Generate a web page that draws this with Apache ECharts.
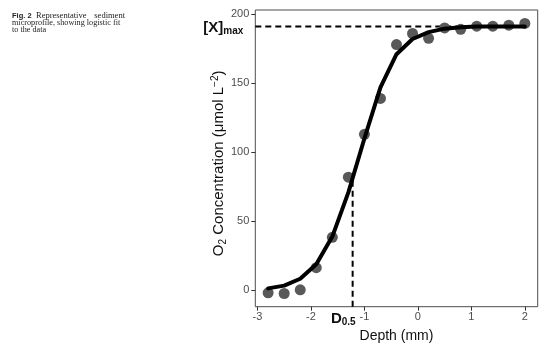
<!DOCTYPE html>
<html><head><meta charset="utf-8">
<script src="https://cdn.jsdelivr.net/npm/echarts@6/dist/echarts.min.js"></script>
<style>html,body{margin:0;padding:0;background:#fff}#c{width:554px;height:357px}</style>
</head><body><div id="c"></div>
<script>
// Observed data (depth in mm, O2 in µmol L^-2)
const depth = [-2.8,-2.5,-2.2,-1.9,-1.6,-1.3,-1.0,-0.7,-0.4,-0.1,0.2,0.5,0.8,1.1,1.4,1.7,2.0];
const o2Obs = [-1.7,-2.2,0.5,16.5,38.5,82,113,139,178,186,182.5,190,189,191.3,191.3,192,193.3];
// Logistic fit
const o2Fit = [1.5,3.5,8.5,19,39,71,110,147,171,182,187,189.5,190.5,191,191,191,191];
const xMax = 191;   // [X]max
const d05 = -1.22;  // D0.5
const d05Level = 81.4;
const xTicks = [-3,-2,-1,0,1,2];
const yTicks = [0,50,100,150,200];
const xRange = [-3.04, 2.24];
const yRange = [-11.75, 203];

const chart = echarts.init(document.getElementById('c'), null, {renderer:'canvas'});
const F = 'Liberation Sans, Arial, sans-serif';
const SERIF = 'Liberation Serif, Times New Roman, serif';
chart.setOption({
  animation:false,
  grid:{left:255.3,right:16.3,top:10,bottom:50.3,show:true,borderColor:'#4d4d4d',borderWidth:1,backgroundColor:'#fff'},
  xAxis:{type:'value',min:xRange[0],max:xRange[1],
    axisLine:{show:false,onZero:false},splitLine:{show:false},
    axisTick:{show:true,length:4,lineStyle:{color:'#333',width:1},customValues:xTicks},
    axisLabel:{customValues:xTicks,color:'#4d4d4d',fontSize:11,fontFamily:F,margin:5},
    name:'Depth (mm)',nameLocation:'middle',nameGap:22,nameMoveOverlap:false,
    nameTextStyle:{color:'#111',fontSize:14,fontFamily:F}},
  yAxis:{type:'value',min:yRange[0],max:yRange[1],
    axisLine:{show:false,onZero:false},splitLine:{show:false},
    axisTick:{show:true,length:4,lineStyle:{color:'#333',width:1},customValues:yTicks},
    axisLabel:{customValues:yTicks,color:'#4d4d4d',fontSize:11,fontFamily:F,margin:6},
    name:'O{sub|2} Concentration (μmol L{sup|−2})',nameLocation:'middle',nameGap:27,nameMoveOverlap:false,
    nameTextStyle:{color:'#111',fontSize:15,fontFamily:F,padding:[0,10,0,0],
      rich:{sub:{fontSize:10,fontFamily:F,color:'#111',padding:[8,0,0,0]},
            sup:{fontSize:10,fontFamily:F,color:'#111',padding:[0,0,8,0]}}}},
  series:[
    {type:'line',data:[[xRange[0],xMax],[depth[depth.length-1],xMax]],symbol:'none',silent:true,z:1,
      lineStyle:{color:'#000',width:2,type:[6,4]}},
    {type:'line',data:[[d05,yRange[0]],[d05,d05Level]],symbol:'none',silent:true,z:1,
      lineStyle:{color:'#000',width:2,type:[6,4]}},
    {type:'scatter',data:depth.map((d,i)=>[d,o2Obs[i]]),symbolSize:11,z:2,
      itemStyle:{color:'#595959',opacity:1}},
    {type:'line',data:depth.map((d,i)=>[d,o2Fit[i]]),symbol:'none',z:3,smooth:false,
      lineStyle:{color:'#000',width:4,join:'round',cap:'round'}}
  ]
});
const pY = chart.convertToPixel({gridIndex:0},[xRange[0],xMax]);
const pX = chart.convertToPixel({gridIndex:0},[d05,yRange[0]]);
const cap = (x,y,t,o)=>Object.assign({type:'text',x:x,y:y,style:Object.assign({text:t,fontFamily:SERIF,fontSize:8.5,fill:'#222',verticalAlign:'middle'},o||{})});
chart.setOption({graphic:[
  cap(12,16,'Fig. 2',{fontFamily:F,fontWeight:'bold',fontSize:7.5}),
  cap(36,16,'Representative'),
  cap(125,16,'sediment',{align:'right'}),
  cap(12,23,'microprofile, showing logistic fit',{fontSize:8.2}),
  cap(12,30,'to the data',{fontSize:8.2}),
  {type:'text',x:pY[0]-12,y:pY[1]+1,style:{
    text:'{m|[X]}{s|max}',align:'right',verticalAlign:'middle',
    rich:{m:{fontFamily:F,fontWeight:'bold',fontSize:15,fill:'#111'},
          s:{fontFamily:F,fontWeight:'bold',fontSize:10,fill:'#111',padding:[8,0,0,0]}}}},
  {type:'text',x:pX[0]+3,y:pX[1]+12,style:{
    text:'{m|D}{s|0.5}',align:'right',verticalAlign:'middle',
    rich:{m:{fontFamily:F,fontWeight:'bold',fontSize:15,fill:'#111'},
          s:{fontFamily:F,fontWeight:'bold',fontSize:10,fill:'#111',padding:[8,0,0,0]}}}}
]});
</script></body></html>
